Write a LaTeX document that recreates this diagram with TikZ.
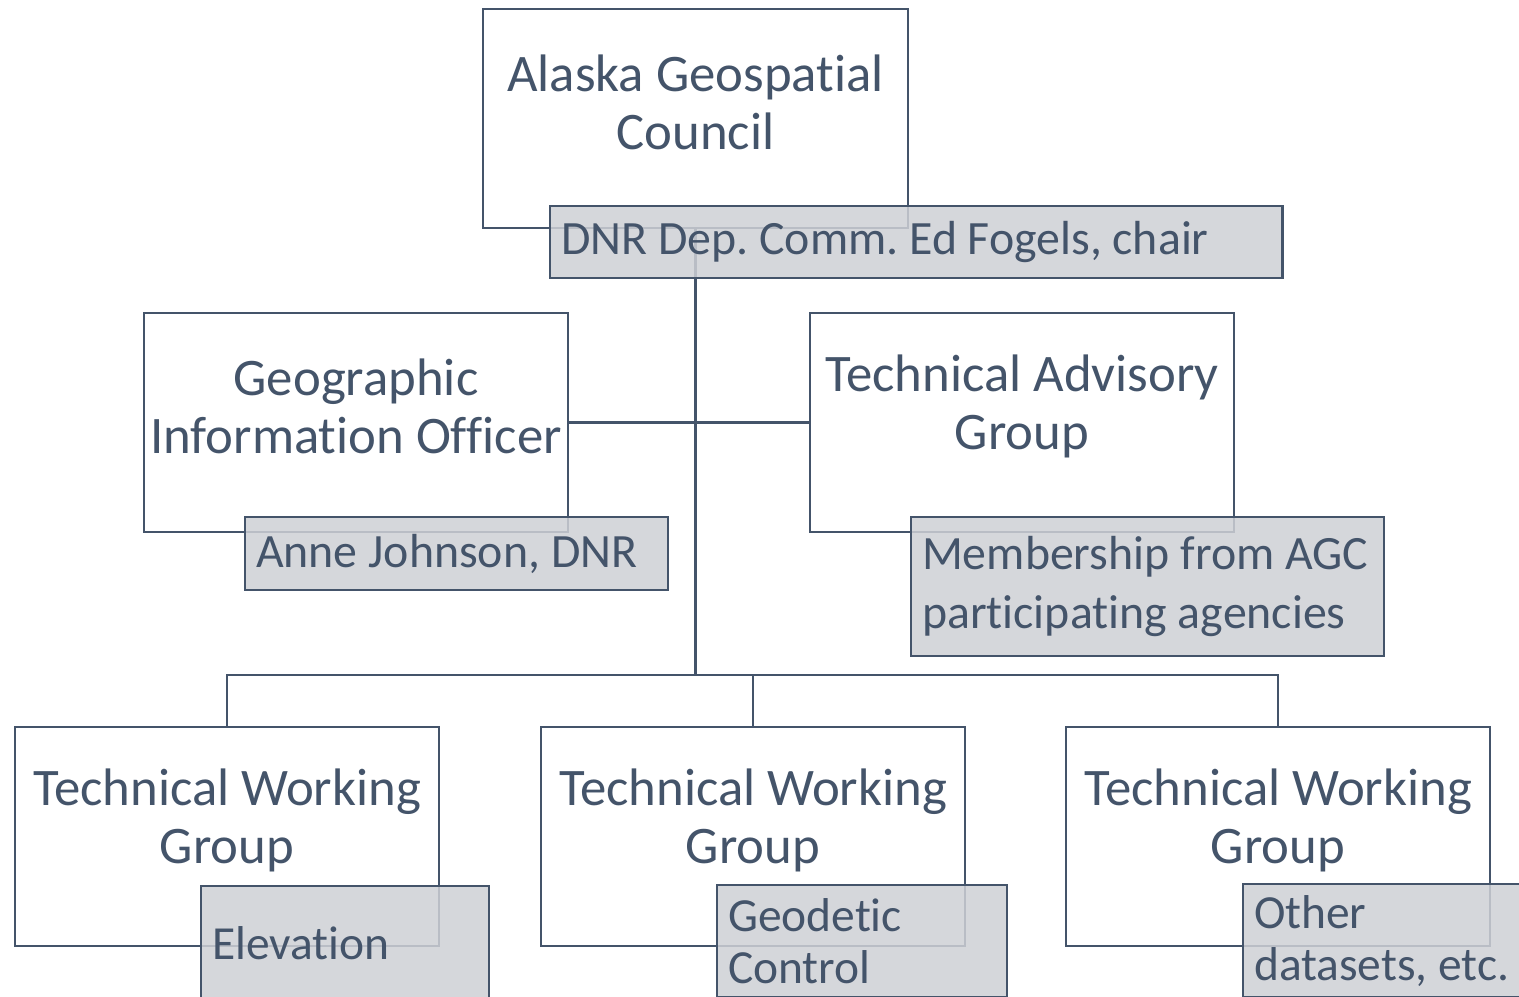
\documentclass[tikz,border=0pt]{standalone}
\usepackage{fontspec}
\setmainfont{Carlito}[Ligatures=CommonOff]
\frenchspacing
\definecolor{slate}{HTML}{44546A}
\definecolor{taggrey}{RGB}{206,208,213}
\tikzset{
  unitbox/.style={draw=slate, line width=0.6pt, fill=white, minimum width=4.24cm, minimum height=2.19cm},
  unittext/.style={text=slate, align=center, font=\fontsize{15}{16.5}\selectfont},
  tagbox/.style={draw=slate, line width=0.6pt, fill=taggrey, fill opacity=0.85, text opacity=1, text=slate, anchor=north west, align=flush left, inner xsep=0.11cm, inner ysep=0pt, font=\fontsize{13.6}{16.8}\selectfont},
  lowtag/.style={font=\fontsize{13.5}{14.8}\selectfont},
  link/.style={draw=slate, line width=0.75pt},
}

\begin{document}
\begin{tikzpicture}[x=0.01cm, y=-0.01cm]
        \useasboundingbox (0,0) rectangle (1519,996);
        \clip (0,0) rectangle (1519,996);

        \node[unitbox] (agc) at (695.5,118.5) {};
        \node[unitbox] (gio) at (356,422.5) {};
        \node[unitbox] (tag) at (1022,422.5) {};
        \node[unitbox] (twgA) at (227,836.5) {};
        \node[unitbox] (twgB) at (753,836.5) {};
        \node[unitbox] (twgC) at (1278,836.5) {};

        \node[unittext] (agc-t) at ([yshift=0.16cm]agc.center) {Alaska Geospatial\\Council};
        \node[unittext] (gio-t) at ([yshift=0.16cm]gio.center) {Geographic\\Information Officer};
        \node[unittext] (tag-t) at ([yshift=0.16cm]tag.center) {Technical Advisory\\Group};
        \node[unittext] (twgA-t) at ([yshift=0.16cm]twgA.center) {Technical Working\\Group};
        \node[unittext] (twgB-t) at ([yshift=0.16cm]twgB.center) {Technical Working\\Group};
        \node[unittext] (twgC-t) at ([yshift=0.16cm]twgC.center) {Technical Working\\Group};

        \coordinate (bus) at (695.5,675);
        \draw[link, line width=0.9pt] (agc.south) -- (bus);
        \draw[link] (gio.east) -- (tag.west);
        \draw[link] (twgA.north) |- (bus) -| (twgC.north);
        \draw[link] (twgB.north) -- (twgB.north |- bus);

        \node[tagbox, text width=7.1cm, minimum height=0.72cm] (dnr) at (549,205) {DNR Dep. Comm. Ed Fogels, chair};
        \node[tagbox, text width=4.01cm, minimum height=0.73cm] (anne) at (244,516) {Anne Johnson, DNR};
        \node[tagbox, text width=4.51cm, minimum height=1.39cm] (member) at (910,516) {Membership from AGC\\participating agencies};
        \node[tagbox, lowtag, text width=2.66cm, minimum height=1.15cm] (elev) at (200,885) {Elevation};
        \node[tagbox, lowtag, text width=2.68cm, minimum height=1.12cm] (geod) at (716,884) {Geodetic\\Control};
        \node[tagbox, lowtag, text width=2.68cm, minimum height=1.13cm] (other) at (1242,883) {Other\\datasets, etc.};
\end{tikzpicture}
\end{document}
